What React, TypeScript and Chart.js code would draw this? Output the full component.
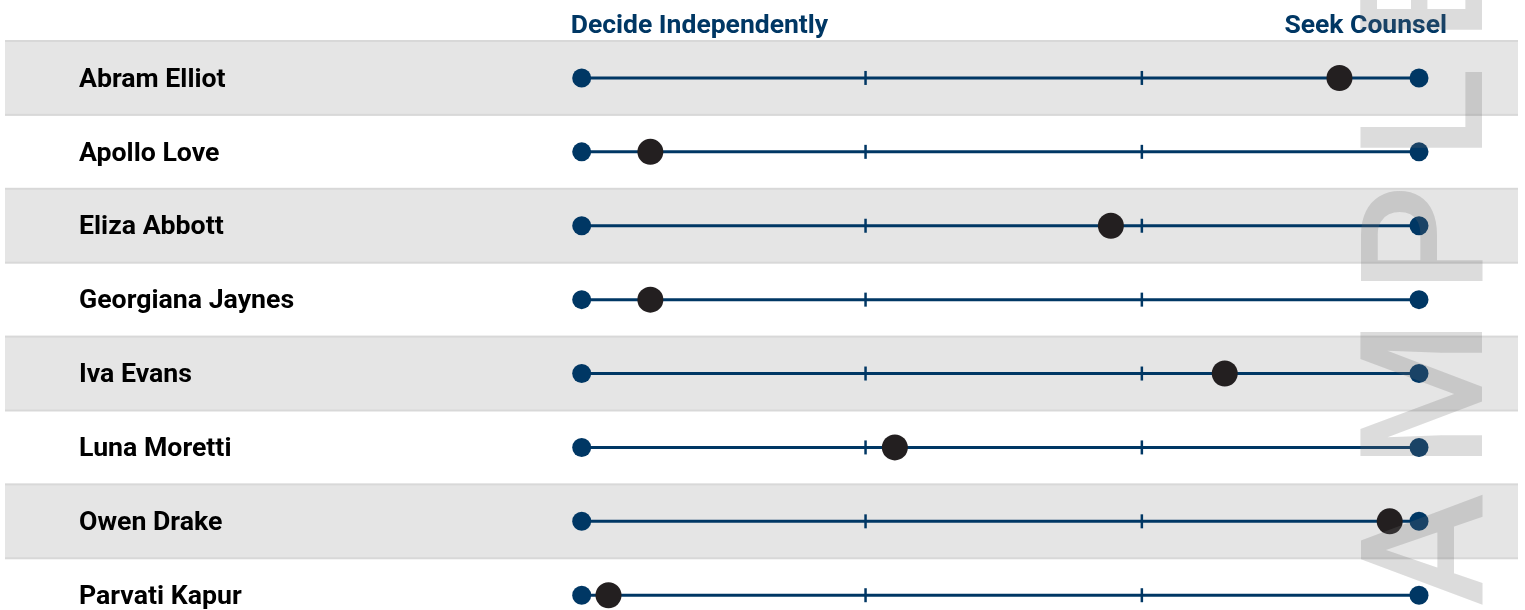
import React, { useEffect, useRef } from "react";
import { Chart, registerables } from "chart.js";

Chart.register(...registerables);

// ---- data ----
const names = [
  "Abram Elliot",
  "Apollo Love",
  "Eliza Abbott",
  "Georgiana Jaynes",
  "Iva Evans",
  "Luna Moretti",
  "Owen Drake",
  "Parvati Kapur",
];
const scores = [90.5, 8.2, 63.2, 8.2, 76.8, 37.4, 96.5, 3.2];
const scaleEnds = [0, 100];
const midTicks = [33.9, 66.9];
const axisLabels = ["Decide Independently", "Seek Counsel"];
const watermarkText = "SAMPLE";

// ---- styles ----
const NAVY = "#003764";
const DOT = "#231f20";
const BAND = "#e5e5e5";
const BAND_EDGE = "#d8d8d8";
const FONT = "Roboto, 'Liberation Sans', sans-serif";

const bandsPlugin = {
  id: "bands",
  beforeDraw(chart: any) {
    const { ctx } = chart;
    const y = chart.scales.y;
    ctx.save();
    names.forEach((_, i) => {
      if (i % 2 !== 0) return;
      const y1 = y.getPixelForValue(i - 0.5);
      const y2 = y.getPixelForValue(i + 0.5);
      ctx.fillStyle = BAND;
      ctx.fillRect(5, y1, 1513, y2 - y1);
      ctx.fillStyle = BAND_EDGE;
      ctx.fillRect(5, y1 - 1, 1513, 2);
      ctx.fillRect(5, y2 - 1, 1513, 2);
    });
    ctx.restore();
  },
};

const headerPlugin = {
  id: "headers",
  afterDraw(chart: any) {
    const { ctx } = chart;
    const x = chart.scales.x;
    ctx.save();
    ctx.fillStyle = NAVY;
    ctx.font = `bold 26.5px ${FONT}`;
    ctx.textBaseline = "alphabetic";
    ctx.textAlign = "left";
    ctx.fillText(axisLabels[0], x.getPixelForValue(scaleEnds[0]) - 11, 33);
    ctx.textAlign = "right";
    ctx.fillText(axisLabels[1], x.getPixelForValue(scaleEnds[1]) + 28, 33);
    ctx.restore();
  },
};

const wmCenters = [707, 550, 394, 239, 114, -6];
const watermarkPlugin = {
  id: "watermark",
  afterDraw(chart: any) {
    const { ctx } = chart;
    ctx.save();
    ctx.fillStyle = "rgba(110,110,110,0.24)";
    ctx.font = `500 170px ${FONT}`;
    ctx.textAlign = "center";
    ctx.textBaseline = "alphabetic";
    watermarkText.split("").forEach((ch, i) => {
      ctx.save();
      ctx.translate(1482, wmCenters[i]);
      ctx.rotate(-Math.PI / 2);
      ctx.fillText(ch, 0, 0);
      ctx.restore();
    });
    ctx.restore();
  },
};

export default function App() {
  const ref = useRef<HTMLCanvasElement>(null);

  useEffect(() => {
    document.body.style.margin = "0";
    if (!ref.current) return;

    const lineSets = names.map((_, i) => ({
      type: "line" as const,
      data: scaleEnds.map((v) => ({ x: v, y: i })),
      borderColor: NAVY,
      borderWidth: 3,
      pointRadius: 9.5,
      pointHoverRadius: 9.5,
      pointBackgroundColor: NAVY,
      pointBorderWidth: 0,
      order: 3,
      clip: false,
    }));

    const tickSet = {
      type: "scatter" as const,
      data: names.flatMap((_, i) => midTicks.map((t) => ({ x: t, y: i }))),
      pointStyle: "line",
      rotation: 90,
      pointRadius: 7,
      pointHoverRadius: 7,
      borderColor: NAVY,
      borderWidth: 2.5,
      order: 2,
      clip: false,
    };

    const scoreSet = {
      type: "scatter" as const,
      data: scores.map((v, i) => ({ x: v, y: i })),
      pointRadius: 13,
      pointHoverRadius: 13,
      pointBackgroundColor: DOT,
      pointBorderWidth: 0,
      order: 0,
      clip: false,
    };

    const chart = new Chart(ref.current, {
      type: "scatter",
      data: { datasets: [scoreSet, tickSet, ...lineSets] as any },
      options: {
        animation: false,
        responsive: true,
        maintainAspectRatio: false,
        events: [],
        layout: {
          autoPadding: false,
          padding: { left: 79, right: 106, top: 41, bottom: 0 },
        },
        plugins: {
          legend: { display: false },
          tooltip: { enabled: false },
          title: { display: false },
        },
        scales: {
          x: {
            type: "linear",
            min: scaleEnds[0],
            max: scaleEnds[1],
            display: false,
          },
          y: {
            type: "linear",
            reverse: true,
            min: -0.5,
            max: 7.2,
            grid: { display: false },
            border: { display: false },
            afterBuildTicks: (s: any) => {
              s.ticks = names.map((_, i) => ({ value: i }));
            },
            afterFit: (s: any) => {
              s.width = 502.7;
              s.paddingTop = 0;
              s.paddingBottom = 0;
            },
            ticks: {
              crossAlign: "far",
              labelOffset: 2,
              color: "#000",
              font: { family: FONT, size: 26.7, weight: "bold" },
              callback: (v: any) => names[v as number] ?? "",
            },
          },
        },
      },
      plugins: [bandsPlugin, headerPlugin, watermarkPlugin],
    });

    return () => chart.destroy();
  }, []);

  return (
    <div style={{ position: "relative", width: 1525, height: 610 }}>
      <canvas ref={ref} />
    </div>
  );
}
